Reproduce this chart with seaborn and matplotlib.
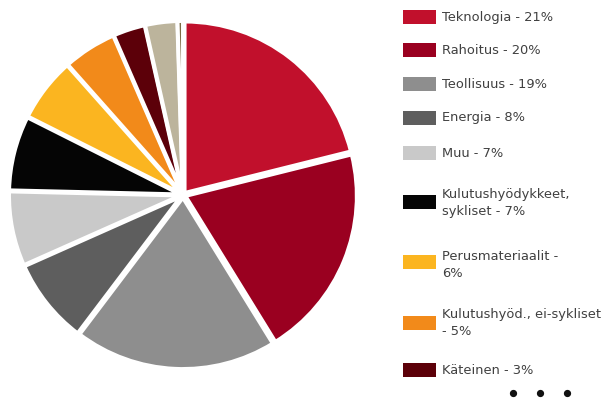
import matplotlib
matplotlib.use("Agg")
import matplotlib.pyplot as plt
from matplotlib.patches import Rectangle
from matplotlib.lines import Line2D
import seaborn as sns

sns.set_theme(style="white")
plt.rcParams["font.family"] = ["DejaVu Sans"]

# Sector weights (%), clockwise from 12 o'clock
shares = [21, 20, 19, 8, 7, 7, 6, 5, 3, 3, 0.5]
colors = ["#c1102c", "#9a0020", "#8e8e8e", "#5e5e5e", "#c9c9c9", "#050505",
          "#fbb520", "#f28a1a", "#5c0009", "#bcb49c", "#7d6c44"]
# Legend entries (the remaining sectors continue past the ellipsis)
legend_labels = ["Teknologia - 21%", "Rahoitus - 20%", "Teollisuus - 19%",
                 "Energia - 8%", "Muu - 7%", "Kulutushyödykkeet,\nsykliset - 7%",
                 "Perusmateriaalit -\n6%", "Kulutushyöd., ei-sykliset\n- 5%",
                 "Käteinen - 3%"]
# vertical centre of each legend swatch and of its text block (pixels from top)
swatch_y = [17, 50, 84, 118, 153, 202, 262, 323, 370]
text_y = [17, 50, 84, 118, 153, 203, 265, 323, 370]

W, H = 607, 398
fig = plt.figure(figsize=(W / 100, H / 100), dpi=100)
fig.patch.set_facecolor("white")

cx, cy, r = 183, 195, 174
ax = fig.add_axes([(cx - r) / W, (H - cy - r) / H, 2 * r / W, 2 * r / H])
ax.pie(shares, colors=colors, startangle=90, counterclock=False,
       explode=[0.015] * len(shares), radius=0.985,
       wedgeprops=dict(edgecolor="white", linewidth=2.8))
ax.set_xlim(-1, 1)
ax.set_ylim(-1, 1)
ax.set_aspect("equal")
ax.axis("off")

for lab, col, sy, ty in zip(legend_labels, colors, swatch_y, text_y):
    fig.add_artist(Rectangle((403 / W, (H - sy - 7) / H), 33 / W, 14 / H,
                             transform=fig.transFigure, facecolor=col,
                             edgecolor="none"))
    fig.text(442 / W, (H - ty) / H, lab, fontsize=9.4, color="#404040",
             va="center", ha="left", linespacing=1.45)

# ellipsis below the legend
fig.add_artist(Line2D([513 / W, 540 / W, 567 / W], [(H - 393) / H] * 3,
                      transform=fig.transFigure, linestyle="none",
                      marker="o", markersize=4.2, color="#111111"))

fig.savefig("out.png", dpi=100, facecolor="white")
